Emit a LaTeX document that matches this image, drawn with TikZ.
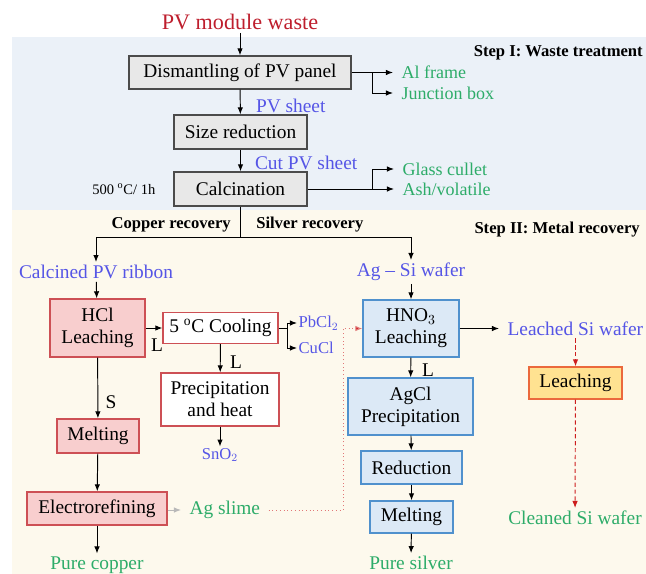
\documentclass[tikz,border=0pt]{standalone}
\usepackage{fontspec}
\setmainfont{Liberation Serif}
\usepackage{tikz}
\usetikzlibrary{arrows.meta}
\tikzset{>={Latex[width=1.4mm,length=1.8mm]}}

\definecolor{stepblue}{RGB}{235,241,248}
\definecolor{stepcream}{RGB}{253,249,237}
\definecolor{boxgray}{RGB}{232,232,232}
\definecolor{edgegray}{RGB}{75,75,75}
\definecolor{pinkfill}{RGB}{248,206,206}
\definecolor{pinkedge}{RGB}{205,80,85}
\definecolor{bluefill}{RGB}{220,233,246}
\definecolor{blueedge}{RGB}{80,145,205}
\definecolor{yellowfill}{RGB}{255,226,145}
\definecolor{yellowedge}{RGB}{235,105,60}
\definecolor{labelblue}{RGB}{85,85,230}
\definecolor{labelgreen}{RGB}{45,172,105}
\definecolor{titlered}{RGB}{190,30,45}
\definecolor{dotred}{RGB}{225,120,120}
\definecolor{tipred}{RGB}{205,30,30}

\tikzset{
  graybox/.style={shape=rectangle,draw=edgegray,line width=0.9pt,fill=boxgray,align=center,inner sep=0pt,font=\fontsize{14}{16}\selectfont},
  cubox/.style={graybox,draw=pinkedge,fill=pinkfill},
  cuwhite/.style={graybox,draw=pinkedge,fill=white},
  agbox/.style={graybox,draw=blueedge,fill=bluefill},
  sibox/.style={graybox,draw=yellowedge,fill=yellowfill},
  flow/.style={text=labelblue,inner sep=2pt,font=\fontsize{14}{16}\selectfont},
  flowsmall/.style={text=labelblue,inner sep=1pt,font=\fontsize{12}{14}\selectfont},
  product/.style={text=labelgreen,inner sep=2pt,font=\fontsize{14}{16}\selectfont},
  byproduct/.style={text=labelgreen,inner xsep=6pt,inner ysep=1pt,font=\fontsize{13}{15}\selectfont},
  stage/.style={inner sep=0pt,font=\bfseries\fontsize{12}{14}\selectfont},
  tag/.style={inner sep=0pt,font=\fontsize{14}{16}\selectfont},
  link/.style={line width=0.7pt},
  sipath/.style={link,draw=tipred,dash pattern=on 3pt off 2pt,-{Latex[width=1.4mm,length=1.8mm,fill=tipred]}},
}

\begin{document}
\begin{tikzpicture}

\useasboundingbox (0in,0in) rectangle (6.46in,-5.74in);
\fill[stepblue] (0.12in,-0.37in) rectangle (6.46in,-2.10in);
\fill[stepcream] (0.12in,-2.10in) rectangle (6.46in,-5.74in);

% Step I
\path (2.40in,-0.22in) node (waste) [inner sep=2pt,text=titlered,font=\fontsize{16}{18}\selectfont]{PV module waste};
\path (6.43in,-0.53in) node (stepone) [stage,anchor=east]{Step I: Waste treatment};

\path (2.40in,-0.725in) node (dism) [graybox,minimum width=2.22in,minimum height=0.33in]{Dismantling of PV panel};
\path (3.93in,-0.725in) node (alframe) [byproduct,anchor=west]{Al frame};
\path (3.93in,-0.93in) node (jbox) [byproduct,anchor=west]{Junction box};
\coordinate (dismfork) at (3.72in,-0.725in);

\path (2.53in,-1.06in) node (pvsheet) [flow,anchor=west]{PV sheet};
\path (2.405in,-1.32in) node (sizered) [graybox,minimum width=1.33in,minimum height=0.34in]{Size reduction};
\path (2.52in,-1.63in) node (cutsheet) [flow,anchor=west]{Cut PV sheet};
\path (2.405in,-1.89in) node (calc) [graybox,minimum width=1.33in,minimum height=0.34in]{Calcination};
\path (0.92in,-1.89in) node (temp) [inner sep=0pt,anchor=west,font=\fontsize{10.5}{12}\selectfont]{500 \textsuperscript{o}C/ 1h};
\path (3.94in,-1.69in) node (glass) [byproduct,anchor=west]{Glass cullet};
\path (3.94in,-1.89in) node (ash) [byproduct,anchor=west]{Ash/volatile};
\coordinate (calcfork) at (3.72in,-1.89in);

\draw[link,->] (waste) -- (dism);
\draw[link,->] (dism.east) -- (alframe.west);
\draw[link,->] (dismfork) |- (jbox.west);
\draw[link,->] (dism) -- (sizered);
\draw[link,->] (sizered) -- (calc);
\draw[link,->] (calc.east) -- (ash.west);
\draw[link,->] (calcfork) |- (glass.west);

% Step II
\path (6.40in,-2.30in) node (steptwo) [stage,anchor=east]{Step II: Metal recovery};
\path (2.31in,-2.25in) node (copper) [stage,anchor=east]{Copper recovery};
\path (2.56in,-2.25in) node (silver) [stage,anchor=west]{Silver recovery};
\coordinate (split) at (2.405in,-2.375in);

\path (0.96in,-2.72in) node (ribbon) [flow]{Calcined PV ribbon};
\path (4.11in,-2.72in) node (agsi) [flow]{Ag -- Si wafer};

\draw[link] (calc) -- (split);
\draw[link,->] (split) -| (ribbon.north);
\draw[link,->] (split) -| (agsi.north);

% copper side
\path (0.975in,-3.28in) node (hcl) [cubox,minimum width=0.95in,minimum height=0.58in]{HCl\\Leaching};
\path (2.205in,-3.28in) node (cool) [cuwhite,minimum width=1.15in,minimum height=0.31in]{5 \textsuperscript{o}C Cooling};
\path (2.97in,-3.23in) node (pbcl) [flowsmall,anchor=west]{PbCl$_2$};
\path (2.97in,-3.48in) node (cucl) [flowsmall,anchor=west]{CuCl};
\coordinate (coolfork) at (2.87in,-3.28in);
\path (2.20in,-3.995in) node (precip) [cuwhite,minimum width=1.18in,minimum height=0.53in]{Precipitation\\and heat};
\path (2.20in,-4.55in) node (sno) [flowsmall]{SnO$_2$};
\path (0.98in,-4.36in) node (meltcu) [cubox,minimum width=0.82in,minimum height=0.34in]{Melting};
\path (0.97in,-5.085in) node (electro) [cubox,minimum width=1.40in,minimum height=0.33in]{Electrorefining};
\path (1.81in,-5.10in) node (slime) [byproduct,anchor=west,font=\fontsize{14}{16}\selectfont]{Ag slime};
\path (0.97in,-5.65in) node (purecu) [product]{Pure copper};
\coordinate (slimeturn) at (3.43in,-5.10in);

\path (1.57in,-3.45in) node (lone) [tag]{L};
\path (2.36in,-3.62in) node (ltwo) [tag]{L};
\path (1.11in,-4.02in) node (sone) [tag]{S};

\draw[link,->] (ribbon) -- (hcl);
\draw[link,->] (hcl) -- (cool);
\draw[link] (cool.east) -- (coolfork);
\draw[link,->] (coolfork) |- (pbcl.west);
\draw[link,->] (coolfork) |- (cucl.west);
\draw[link,->] (cool) -- (precip);
\draw[link,->] (precip) -- (sno);
\draw[link,->] (hcl) -- (meltcu);
\draw[link,->] (meltcu) -- (electro);
\draw[link,->] (electro) -- (purecu);
\draw[link,draw=gray!55,-{Latex[width=1.4mm,length=1.8mm,fill=gray!55]}] (electro.east |- slime.west) -- (slime.west);

% silver side
\path (4.11in,-3.285in) node (hno) [agbox,minimum width=0.96in,minimum height=0.57in]{HNO$_3$\\Leaching};
\path (4.99in,-3.285in) node (leachedsi) [flow,anchor=west,inner xsep=6pt]{Leached Si wafer};
\path (4.105in,-4.065in) node (agcl) [agbox,minimum width=1.25in,minimum height=0.57in]{AgCl\\Precipitation};
\path (4.115in,-4.675in) node (reduct) [agbox,minimum width=1.01in,minimum height=0.33in]{Reduction};
\path (4.115in,-5.17in) node (meltag) [agbox,minimum width=0.83in,minimum height=0.32in]{Melting};
\path (4.11in,-5.63in) node (pureag) [product]{Pure silver};
\path (5.755in,-3.83in) node (sileach) [sibox,minimum width=0.93in,minimum height=0.32in]{Leaching};
\path (5.75in,-5.18in) node (cleansi) [product]{Cleaned Si wafer};
\path (4.28in,-3.70in) node (lthree) [tag]{L};

\draw[link,->] (agsi) -- (hno);
\draw[link,->] (hno.east) -- (leachedsi.west);
\draw[link,->] (hno) -- (agcl);
\draw[link,->] (agcl) -- (reduct);
\draw[link,->] (reduct) -- (meltag);
\draw[link,->] (meltag) -- (pureag);
\draw[sipath] (leachedsi.south -| sileach.north) -- (sileach.north);
\draw[sipath] (sileach) -- (cleansi);

% silver from the copper line
\draw[link,draw=dotred,dotted,-{Latex[width=1.4mm,length=1.8mm,fill=tipred]}] (slime.east) -- (slimeturn) |- (hno.west);

\end{tikzpicture}
\end{document}
